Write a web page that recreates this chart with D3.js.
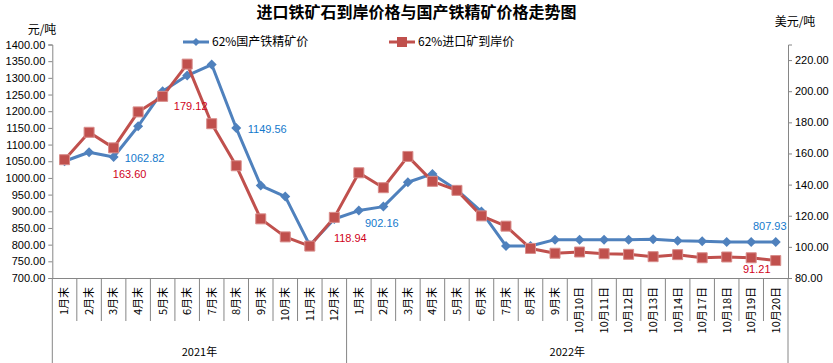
<!DOCTYPE html>
<html>
<head>
<meta charset="utf-8">
<script src="https://cdn.jsdelivr.net/npm/d3@7"></script>
<style>
  body { margin: 0; background: #fff; }
  svg { display: block; }
  text { font-family: "Liberation Sans", "Noto Sans CJK SC", sans-serif; }
  .cjk { font-family: "Noto Sans CJK SC", sans-serif; }
</style>
</head>
<body>
<svg width="833" height="363"></svg>
<script>
const categories = ["1月末", "2月末", "3月末", "4月末", "5月末", "6月末", "7月末", "8月末", "9月末", "10月末", "11月末", "12月末",
  "1月末", "2月末", "3月末", "4月末", "5月末", "6月末", "7月末", "8月末", "9月末",
  "10月10日", "10月11日", "10月12日", "10月13日", "10月14日", "10月17日", "10月18日", "10月19日", "10月20日"]

const years = [{ name: "2021年", start: 0, end: 12 }, { name: "2022年", start: 12, end: 30 }]

// 62%国产铁精矿价 (元/吨, left axis)
const domesticPrice = [1050, 1077, 1062.82, 1155, 1260, 1307, 1340, 1149.56, 977, 944, 798, 877,
  902.16, 914, 987, 1012, 964, 899, 796, 796, 815,
  815, 815, 815, 816, 812, 810, 808, 808, 807.93]

// 62%进口矿到岸价 (美元/吨, right axis)
const importPrice = [156.0, 173.6, 163.60, 186.7, 196.7, 217.4, 179.12, 152.1, 118.0, 106.4, 100.5, 118.94,
  147.6, 138.0, 158.1, 142.1, 136.3, 119.9, 113.3, 99.0, 95.9,
  96.7, 95.6, 95.2, 93.7, 95.0, 93.0, 93.5, 93.0, 91.21]

const leftTicks = d3.range(700, 1401, 50)
const rightTicks = d3.range(80, 221, 20)

// labelled points: which series, which index, where the label sits
const pointLabels = [
  { series: "domestic", index: 2, dx: 31, dy: 1 },
  { series: "domestic", index: 7, dx: 31, dy: 1 },
  { series: "domestic", index: 12, dx: 23, dy: 13 },
  { series: "domestic", index: 29, dx: -6, dy: -16 },
  { series: "import", index: 2, dx: 16, dy: 26 },
  { series: "import", index: 6, dx: -21, dy: -18 },
  { series: "import", index: 11, dx: 16, dy: 21 },
  { series: "import", index: 29, dx: -19, dy: 9 }
]

const blue = "#4F81BD"
const red = "#C0504D"
const axisGrey = "#868686"

const svg = d3.select('svg')
const width = +svg.attr('width')
const height = +svg.attr('height')

const margin = { top: 44.5, right: 45, bottom: 85, left: 52.3 }
const plotBottom = height - margin.bottom
const plotRight = width - margin.right

let xScale = d3.scaleBand()
  .domain(d3.range(categories.length))
  .range([margin.left, plotRight])

let yLeft = d3.scaleLinear().domain([700, 1400]).range([plotBottom, margin.top])
let yRight = d3.scaleLinear().domain([80, 230]).range([plotBottom, margin.top])

let xc = (i) => xScale(i) + xScale.bandwidth() / 2

// title
svg.append('text')
  .attr('class', 'cjk')
  .attr('x', width / 2)
  .attr('y', 12)
  .attr('dy', '0.35em')
  .attr('text-anchor', 'middle')
  .style('font-size', '16px')
  .style('font-weight', 'bold')
  .text('进口铁矿石到岸价格与国产铁精矿价格走势图')

svg.append('text').attr('class', 'cjk')
  .attr('x', 42).attr('y', 34)
  .attr('text-anchor', 'middle')
  .style('font-size', '12px')
  .text('元/吨')

svg.append('text').attr('class', 'cjk')
  .attr('x', 795).attr('y', 26)
  .attr('text-anchor', 'middle')
  .style('font-size', '12px')
  .text('美元/吨')

// axes
let leftAxis = d3.axisLeft(yLeft)
  .tickValues(leftTicks)
  .tickFormat(d3.format('.2f'))
  .tickSizeOuter(0)
  .tickSize(4)

let gl = svg.append('g')
  .attr('transform', 'translate(' + margin.left + ',0)')
  .call(leftAxis)

let rightAxis = d3.axisRight(yRight)
  .tickValues(rightTicks)
  .tickFormat(d3.format('.2f'))
  .tickSizeOuter(0)
  .tickSize(4)

let gr = svg.append('g')
  .attr('transform', 'translate(' + plotRight + ',0)')
  .call(rightAxis)

let bottomAxis = d3.axisBottom(xScale)
  .tickSize(0)
  .tickFormat((i) => categories[i])

let gb = svg.append('g')
  .attr('transform', 'translate(0,' + plotBottom + ')')
  .call(bottomAxis)

gb.selectAll('text')
  .attr('class', 'cjk')
  .attr('transform', 'rotate(-90)')
  .attr('x', -9)
  .attr('y', 0)
  .attr('dy', '0.35em')
  .style('text-anchor', 'end')

for (let g of [gl, gr, gb]) {
  g.selectAll('path, line').attr('stroke', axisGrey)
  g.selectAll('text').style('font-size', '11px').attr('fill', '#000')
}
gb.select('.domain').attr('stroke', axisGrey)

// category separators under the x axis
let bounds = d3.range(categories.length + 1)
let xb = (k) => k < categories.length ? xScale(k) : plotRight
let groupEdges = [0, 12, 30]

svg.append('g').selectAll('line').data(bounds).enter()
  .append('line')
  .attr('x1', (k) => xb(k))
  .attr('x2', (k) => xb(k))
  .attr('y1', plotBottom)
  .attr('y2', (k) => groupEdges.includes(k) ? height : plotBottom + 43)
  .attr('stroke', axisGrey)

svg.append('g').selectAll('text').data(years).enter()
  .append('text')
  .attr('class', 'cjk')
  .attr('x', (d) => (xb(d.start) + xb(d.end)) / 2)
  .attr('y', 356)
  .attr('text-anchor', 'middle')
  .style('font-size', '11px')
  .text((d) => d.name)

// series
let drawSeries = (values, yScale, colour, marker) => {
  let line = d3.line()
    .x((d, i) => xc(i))
    .y((d) => yScale(d))

  svg.append('path')
    .datum(values)
    .attr('fill', 'none')
    .attr('stroke', colour)
    .attr('stroke-width', 3)
    .attr('stroke-linejoin', 'round')
    .attr('d', line)

  let pts = svg.append('g').selectAll('path').data(values).enter()
    .append('path')
    .attr('transform', (d, i) => 'translate(' + xc(i) + ',' + yScale(d) + ')')

  if (marker === 'diamond') {
    pts.attr('d', 'M0,-5L5,0L0,5L-5,0Z').attr('fill', colour)
  } else {
    pts.attr('d', 'M-5,-5H5V5H-5Z')
      .attr('fill', colour)
      .attr('stroke', '#D88C8A')
      .attr('stroke-width', 1)
  }
}

drawSeries(domesticPrice, yLeft, blue, 'diamond')
drawSeries(importPrice, yRight, red, 'square')

// data labels
svg.append('g').selectAll('text').data(pointLabels).enter()
  .append('text')
  .attr('x', (d) => xc(d.index) + d.dx)
  .attr('y', (d) => {
    let v = d.series === 'domestic' ? domesticPrice[d.index] : importPrice[d.index]
    let s = d.series === 'domestic' ? yLeft : yRight
    return s(v) + d.dy
  })
  .attr('dy', '0.35em')
  .attr('text-anchor', 'middle')
  .attr('fill', (d) => d.series === 'domestic' ? '#1479CC' : '#D0021B')
  .style('font-size', '11px')
  .text((d) => d.series === 'domestic' ? domesticPrice[d.index].toFixed(2) : importPrice[d.index].toFixed(2))

// legend
let legendItems = [
  { name: '62%国产铁精矿价', colour: blue, marker: 'M0,-4L4,0L0,4L-4,0Z', x: 183 },
  { name: '62%进口矿到岸价', colour: red, marker: 'M-5,-5H5V5H-5Z', x: 389 }
]

let legend = svg.append('g').attr('transform', 'translate(0,42)')
let li = legend.selectAll('g').data(legendItems).enter()
  .append('g')
  .attr('transform', (d) => 'translate(' + d.x + ',0)')

li.append('line')
  .attr('x1', 0).attr('x2', 26)
  .attr('stroke', (d) => d.colour)
  .attr('stroke-width', 3)

li.append('path')
  .attr('transform', 'translate(13,0)')
  .attr('d', (d) => d.marker)
  .attr('fill', (d) => d.colour)

li.append('text')
  .attr('class', 'cjk')
  .attr('x', 29)
  .attr('dy', '0.35em')
  .style('font-size', '12px')
  .text((d) => d.name)
</script>
</body>
</html>
